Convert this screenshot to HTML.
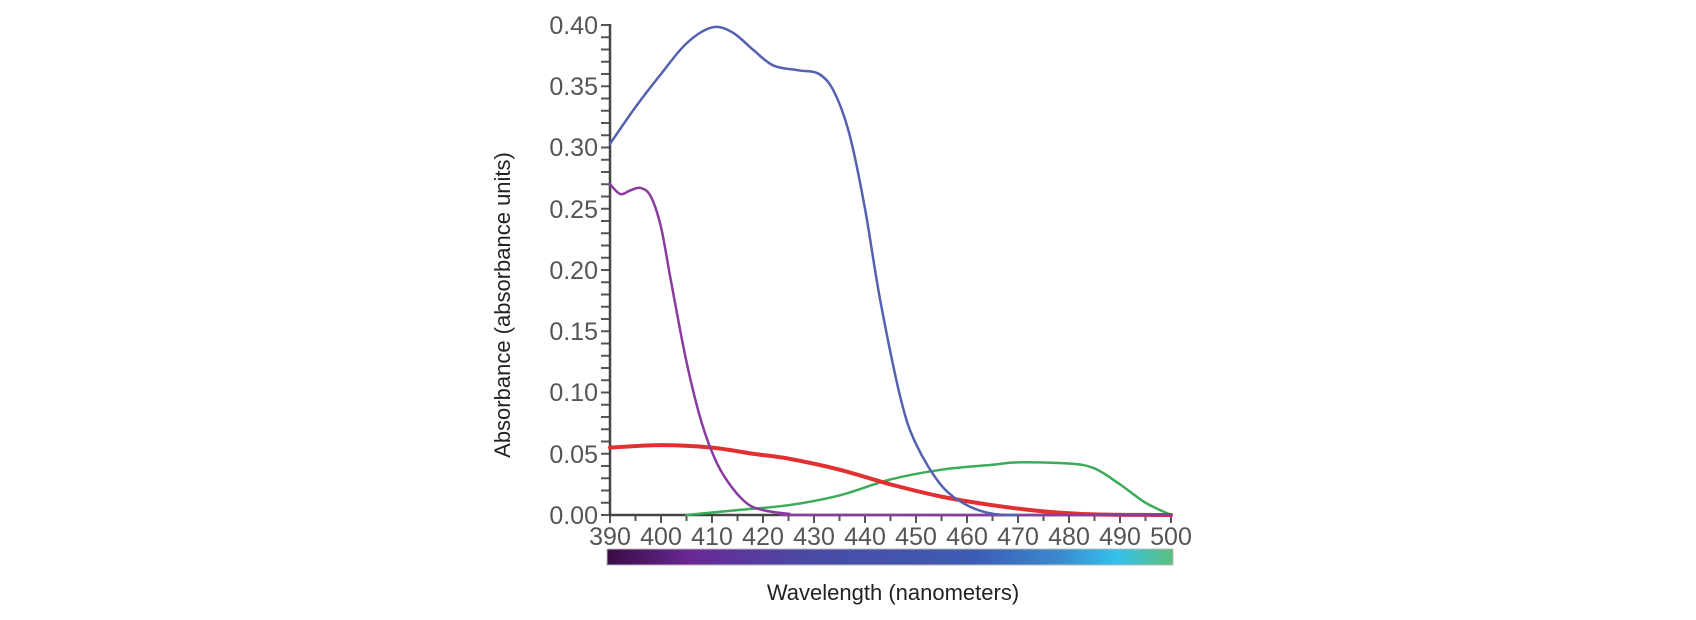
<!DOCTYPE html>
<html><head><meta charset="utf-8"><style>
body{margin:0;background:#fff;width:1696px;height:620px;overflow:hidden}
svg{display:block}
text{font-family:"Liberation Sans",sans-serif;fill:#555}
</style></head><body>
<svg id="s" width="1696" height="620" viewBox="0 0 1696 620">
<defs><linearGradient id="g" x1="0" x2="1" y1="0" y2="0">
<stop offset="0" stop-color="#3a0c45"/><stop offset="0.15" stop-color="#6a2896"/>
<stop offset="0.35" stop-color="#4a4aa6"/><stop offset="0.65" stop-color="#3d5cb3"/>
<stop offset="0.8" stop-color="#3a8ad0"/><stop offset="0.9" stop-color="#33c0ec"/>
<stop offset="1" stop-color="#5cbf7c"/></linearGradient></defs>
<rect x="607" y="549" width="566" height="16" fill="url(#g)" stroke="#bbb" stroke-width="1"/>
<g id="ticks" stroke="#555" stroke-width="2"></g>
<line x1="610" y1="24" x2="610" y2="515" stroke="#444" stroke-width="2.5"/>
<line x1="609" y1="515" x2="1172" y2="515" stroke="#444" stroke-width="2.5"/>
<g font-size="25" text-anchor="end">
<text x="598" y="524">0.00</text><text x="598" y="463">0.05</text><text x="598" y="401">0.10</text>
<text x="598" y="340">0.15</text><text x="598" y="279">0.20</text><text x="598" y="218">0.25</text>
<text x="598" y="156">0.30</text><text x="598" y="95">0.35</text><text x="598" y="34">0.40</text>
</g>
<g font-size="25" text-anchor="middle">
<text x="610" y="545">390</text><text x="661" y="545">400</text><text x="712" y="545">410</text>
<text x="763" y="545">420</text><text x="814" y="545">430</text><text x="865" y="545">440</text>
<text x="916" y="545">450</text><text x="967" y="545">460</text><text x="1018" y="545">470</text>
<text x="1069" y="545">480</text><text x="1120" y="545">490</text><text x="1171" y="545">500</text>
</g>
<text x="893" y="600" font-size="22" text-anchor="middle" style="fill:#222">Wavelength (nanometers)</text>
<text transform="translate(510,305) rotate(-90)" font-size="22" text-anchor="middle" style="fill:#222">Absorbance (absorbance units)</text>
<g id="curves" fill="none" stroke-linejoin="round" stroke-linecap="round"></g>
</svg>
<script>
var NS="http://www.w3.org/2000/svg";
function X(w){return 610+(w-390)*5.1}function Y(a){return 515-a*1225}
var t=document.getElementById("ticks"),h="";
for(var i=0;i<=40;i++){var y=515-i*12.25;h+='<line x1="601" x2="610" y1="'+y+'" y2="'+y+'"/>';}
for(var w=390;w<=500;w+=5){h+='<line x1="'+X(w)+'" x2="'+X(w)+'" y1="515" y2="'+(w%10?521:523)+'"/>';}
t.innerHTML=h;
function path(p){var q=p.map(function(d){return[X(d[0]),Y(d[1])]});var s="M"+q[0][0]+","+q[0][1];
for(var i=0;i<q.length-1;i++){var p0=q[i-1]||q[i],p1=q[i],p2=q[i+1],p3=q[i+2]||p2;
s+=" C"+(p1[0]+(p2[0]-p0[0])/6)+","+(p1[1]+(p2[1]-p0[1])/6)+" "+(p2[0]-(p3[0]-p1[0])/6)+","+(p2[1]-(p3[1]-p1[1])/6)+" "+p2[0]+","+p2[1];}return s;}
var C=[
["#3cab5a",2.5,[[405,0],[415,0.004],[425,0.008],[435,0.016],[445,0.029],[455,0.037],[465,0.041],[470,0.043],[480,0.042],[485,0.038],[490,0.025],[495,0.01],[500,0]]],
["#e03030",4,[[390,0.055],[400,0.057],[410,0.055],[418,0.05],[425,0.046],[435,0.037],[445,0.025],[455,0.015],[465,0.008],[475,0.003],[485,0.0005],[500,0]]],
["#8a3aa0",2.5,[[390,0.27],[392,0.262],[394,0.265],[396,0.267],[398,0.26],[400,0.235],[402,0.19],[405,0.125],[408,0.075],[411,0.042],[414,0.022],[417,0.009],[420,0.004],[425,0.001],[430,0],[500,0]]],
["#5560b0",2.5,[[390,0.303],[395,0.333],[400,0.36],[405,0.385],[410,0.398],[414,0.394],[418,0.38],[422,0.367],[427,0.363],[431,0.36],[434,0.345],[437,0.31],[440,0.25],[443,0.175],[447,0.095],[450,0.058],[455,0.024],[460,0.008],[465,0.001],[470,0]]]];
var g=document.getElementById("curves");
C.forEach(function(c){var e=document.createElementNS(NS,"path");e.setAttribute("d",path(c[2]));e.setAttribute("stroke",c[0]);e.setAttribute("stroke-width",c[1]);g.appendChild(e);});
</script>
</body></html>
